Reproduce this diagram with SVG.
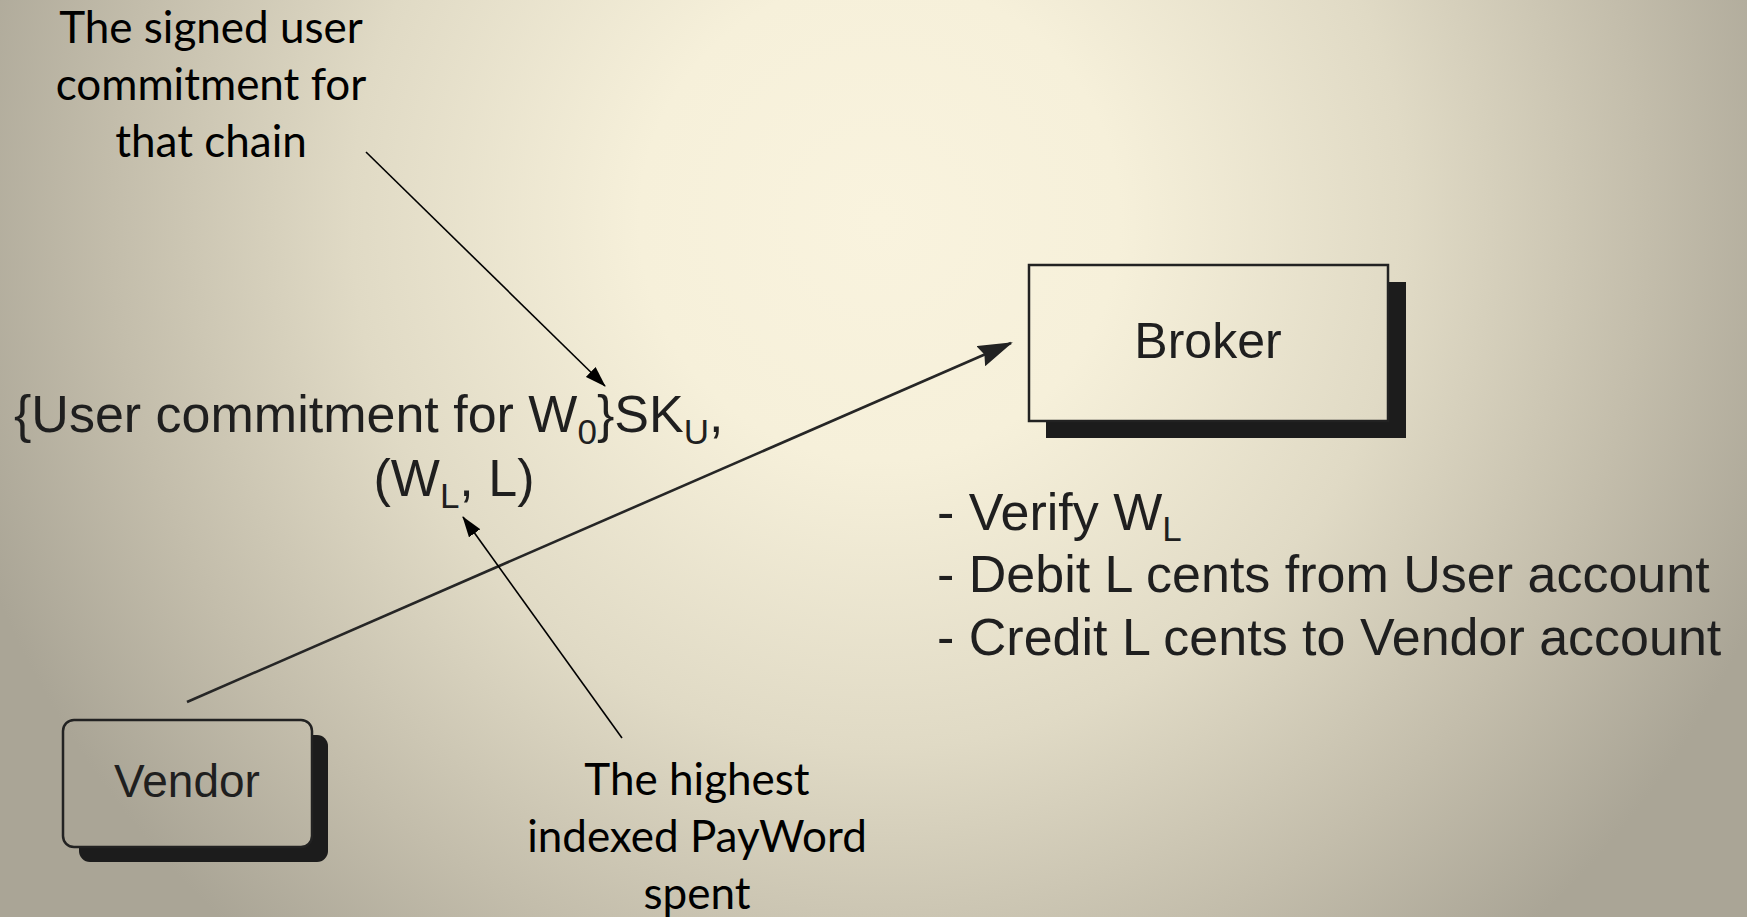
<svg xmlns="http://www.w3.org/2000/svg" width="1747" height="917" viewBox="0 0 1747 917">
  <defs>
    <radialGradient id="bg" gradientUnits="userSpaceOnUse" cx="880" cy="220" r="960">
      <stop offset="0" stop-color="#f9f3de"/>
      <stop offset="0.25" stop-color="#f6f0da"/>
      <stop offset="0.55" stop-color="#e0dac5"/>
      <stop offset="0.8" stop-color="#c3bdab"/>
      <stop offset="1" stop-color="#aaa596"/>
    </radialGradient>
    <marker id="head-main" markerUnits="userSpaceOnUse" markerWidth="36" markerHeight="22" refX="33" refY="11" orient="auto">
      <polygon points="0,0 35,11 0,22 4,11" fill="#222"/>
    </marker>
    <marker id="head-note" markerUnits="userSpaceOnUse" markerWidth="22" markerHeight="14" refX="20" refY="7" orient="auto">
      <polygon points="0,0 21,7 0,14" fill="#000"/>
    </marker>
    <style>
      .box { fill: url(#bg); stroke: #222; stroke-width: 2.5; }
      .shadow { fill: #1c1c1c; }
      .scan { font-family: "Liberation Sans", Arial, sans-serif; fill: #1f1f1f; }
      .note { font-family: Lato, "Open Sans", sans-serif; font-size: 44px; fill: #000; text-anchor: middle; }
      .sub { font-size: 35px; }
      .flow { fill: none; stroke: #262626; stroke-width: 2.6; }
      .pointer { fill: none; stroke: #000; stroke-width: 1.6; }
    </style>
  </defs>

  <rect x="0" y="0" width="1747" height="917" fill="url(#bg)"/>

  <!-- Broker -->
  <g id="node-broker">
    <rect class="shadow" x="1046" y="282" width="360" height="156"/>
    <rect class="box" x="1029" y="265" width="359" height="156"/>
    <text class="scan" x="1208" y="358" font-size="50" text-anchor="middle">Broker</text>
  </g>

  <!-- Vendor -->
  <g id="node-vendor">
    <rect class="shadow" x="79" y="735" width="249" height="127" rx="11"/>
    <rect class="box" x="63" y="720" width="249" height="127" rx="11"/>
    <text class="scan" x="187" y="797" font-size="46" text-anchor="middle">Vendor</text>
  </g>

  <!-- message sent from Vendor to Broker -->
  <g id="label-message" class="scan" font-size="52">
    <text x="14" y="432">{User commitment for W<tspan class="sub" dy="12">0</tspan><tspan dy="-12">}SK</tspan><tspan class="sub" dy="12">U</tspan><tspan dy="-12">,</tspan></text>
    <text x="454" y="496" text-anchor="middle">(W<tspan class="sub" dy="12">L</tspan><tspan dy="-12">, L)</tspan></text>
  </g>

  <!-- Broker actions -->
  <g id="label-actions" class="scan" font-size="52">
    <text x="937" y="530">- Verify W<tspan class="sub" dy="11">L</tspan></text>
    <text x="937" y="592">- Debit L cents from User account</text>
    <text x="937" y="655">- Credit L cents to Vendor account</text>
  </g>

  <!-- annotations -->
  <g id="note-commitment" class="note">
    <text x="211" y="43">The signed user</text>
    <text x="211" y="100">commitment for</text>
    <text x="211" y="157">that chain</text>
  </g>
  <g id="note-payword" class="note">
    <text x="697" y="795">The highest</text>
    <text x="697" y="852">indexed PayWord</text>
    <text x="697" y="909">spent</text>
  </g>

  <!-- connectors -->
  <g id="connectors">
    <path class="flow" d="M187,702 L1011,343" marker-end="url(#head-main)"/>
    <path class="pointer" d="M366,152 L605,386" marker-end="url(#head-note)"/>
    <path class="pointer" d="M622,738 L463,517" marker-end="url(#head-note)"/>
  </g>
</svg>
